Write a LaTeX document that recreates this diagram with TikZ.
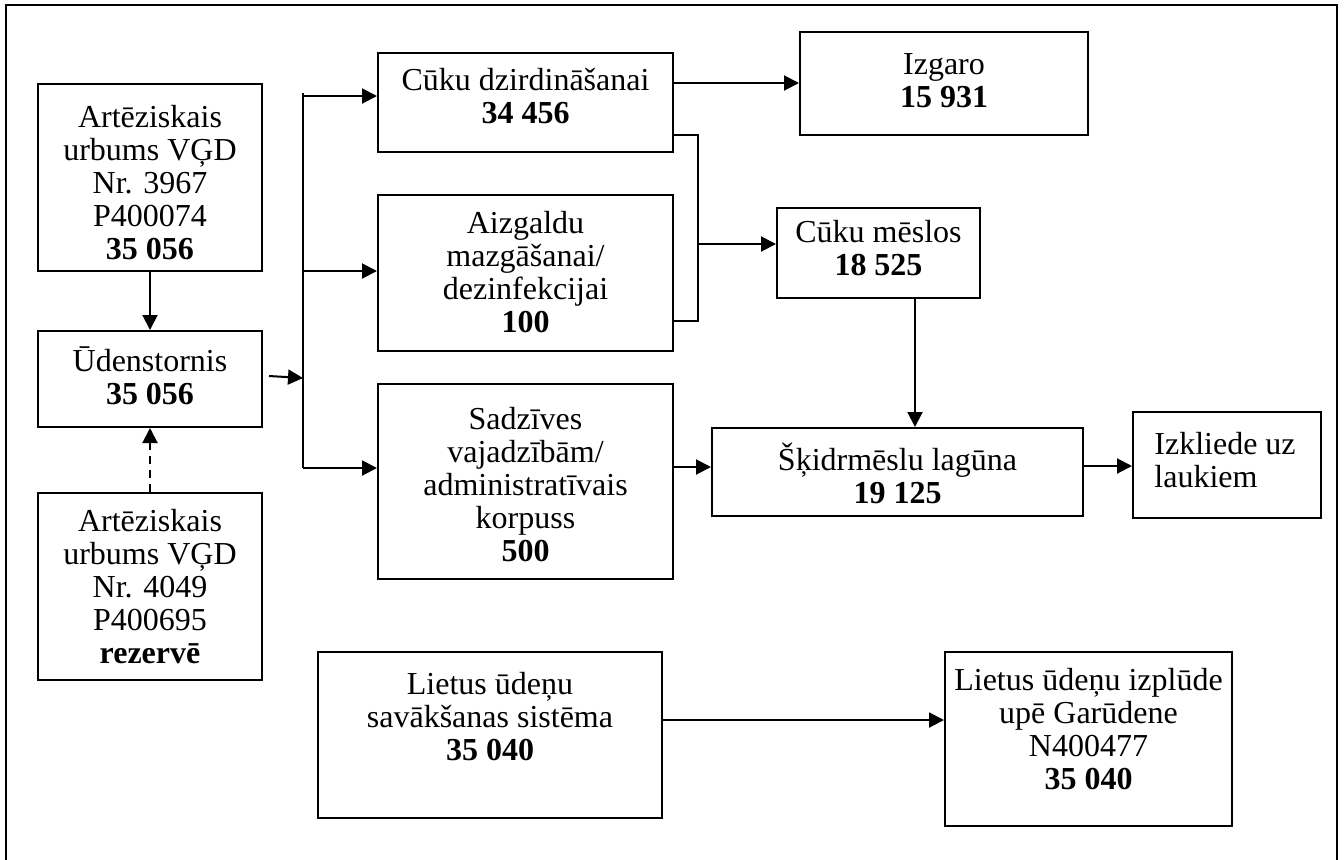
\documentclass[tikz,border=0pt]{standalone}
\usepackage{fontspec}
\setmainfont{Liberation Serif}
\usetikzlibrary{arrows.meta}
\begin{document}
\begin{tikzpicture}[x=0.5pt,y=-0.5pt,
  box/.style={draw,line width=1pt,rectangle,inner sep=0pt},
  txt/.style={align=center,inner sep=0pt,font=\fontsize{16pt}{16.5pt}\selectfont},
  ln/.style={line width=1pt},
  arr/.style={line width=1pt,-{Triangle[length=7.5pt,width=7.5pt]}}]
\useasboundingbox (0,0) rectangle (1344,859);
% frame
\draw[line width=1.2pt] (6,870) -- (6,5) -- (1337,5) -- (1337,870);
% boxes
\node[box,minimum width=112pt,minimum height=93.5pt] (a1) at (150,177.5) {};
\node[box,minimum width=112pt,minimum height=48pt] (ud) at (150,379) {};
\node[box,minimum width=112pt,minimum height=93.5pt] (a2) at (150,586.5) {};
\node[box,minimum width=147.5pt,minimum height=49.5pt] (cd) at (525.5,102.5) {};
\node[box,minimum width=147.5pt,minimum height=78pt] (az) at (525.5,273) {};
\node[box,minimum width=147.5pt,minimum height=97.5pt] (sa) at (525.5,481.5) {};
\node[box,minimum width=144pt,minimum height=51.5pt] (iz) at (944,83.5) {};
\node[box,minimum width=101.5pt,minimum height=45pt] (cm) at (878.5,253) {};
\node[box,minimum width=185.5pt,minimum height=44pt] (sk) at (897.5,472) {};
\node[box,minimum width=94pt,minimum height=53pt] (ik) at (1227,465) {};
\node[box,minimum width=172pt,minimum height=83pt] (lu) at (490,735) {};
\node[box,minimum width=143.5pt,minimum height=87pt] (li) at (1088.5,739) {};
% texts
\node[txt] (a1t) at (150,183) {Artēziskais\\urbums VĢD\\Nr. 3967\\P400074\\\textbf{35 056}};
\node[txt] (udt) at (150,376) {Ūdenstornis\\\textbf{35 056}};
\node[txt] (a2t) at (150,587) {Artēziskais\\urbums VĢD\\Nr. 4049\\P400695\\\textbf{rezervē}};
\node[txt] (cdt) at (525.5,96) {Cūku dzirdināšanai\\\textbf{34 456}};
\node[txt] (azt) at (525.5,272) {Aizgaldu\\mazgāšanai/\\dezinfekcijai\\\textbf{100}};
\node[txt] (sat) at (525.5,485) {Sadzīves\\vajadzībām/\\administratīvais\\korpuss\\\textbf{500}};
\node[txt] (izt) at (944,81) {Izgaro\\\textbf{15 931}};
\node[txt] (cmt) at (878.5,248) {Cūku mēslos\\\textbf{18 525}};
\node[txt] (skt) at (897.5,473) {Šķidrmēslu lagūna\\\textbf{19 125}};
\node[txt,align=left,anchor=west] (ikt) at (1154,460.5) {Izkliede uz\\laukiem};
\node[txt] (lut) at (490,717) {Lietus ūdeņu\\savākšanas sistēma\\\textbf{35 040}};
\node[txt] (lit) at (1088.5,729) {Lietus ūdeņu izplūde\\upē Garūdene\\N400477\\\textbf{35 040}};
% connectors
\draw[arr] (a1.south) -- (ud.north);
\draw[arr,dash pattern=on 4pt off 3pt] (a2.north) -- (ud.south);
\coordinate (us) at (269,376);
\coordinate (ue) at (303,378);
\coordinate (j0) at (303,93);
\coordinate (j1) at (303,96);
\coordinate (j2) at (303,271);
\coordinate (j3) at (303,468);
\draw[ln] (j0) -- (j3);
\draw[arr] (us) -- (ue);
\draw[arr] (j1) -- (j1 -| cd.west);
\draw[arr] (j2) -- (j2 -| az.west);
\draw[arr] (j3) -- (j3 -| sa.west);
\coordinate (c1) at (673,83);
\draw[arr] (c1) -- (c1 -| iz.west);
\coordinate (m1) at (673,135);
\coordinate (m2) at (698,135);
\coordinate (m3) at (698,321);
\coordinate (m4) at (673,321);
\draw[ln] (m1) -- (m2) -- (m3) -- (m4);
\coordinate (m5) at (698,244);
\draw[arr] (m5) -- (m5 -| cm.west);
\coordinate (k1) at (915,298);
\draw[arr] (k1) -- (k1 |- sk.north);
\coordinate (s1) at (673,467);
\draw[arr] (s1) -- (s1 -| sk.west);
\coordinate (s2) at (1083,466);
\draw[arr] (s2) -- (s2 -| ik.west);
\coordinate (l1) at (662,720);
\draw[arr] (l1) -- (l1 -| li.west);
\end{tikzpicture}
\end{document}
